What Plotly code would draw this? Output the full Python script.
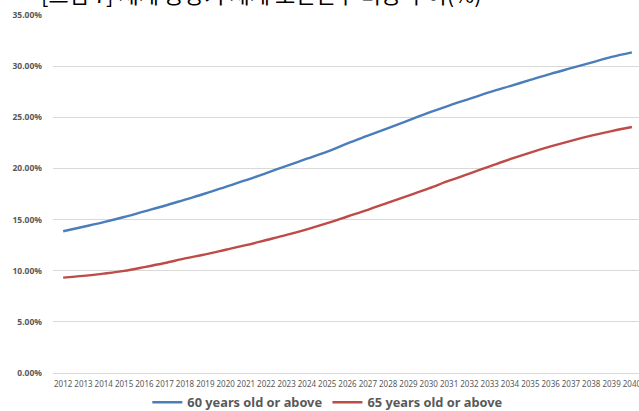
import plotly.graph_objects as go

years = [str(y) for y in range(2012, 2041)]
age60 = [13.86, 14.3, 14.75, 15.25, 15.8, 16.35, 16.95, 17.55, 18.2, 18.85,
         19.55, 20.25, 20.95, 21.65, 22.45, 23.2, 23.95, 24.7, 25.45, 26.15,
         26.8, 27.45, 28.05, 28.65, 29.25, 29.8, 30.35, 30.9, 31.35]
age65 = [9.32, 9.5, 9.72, 9.98, 10.35, 10.75, 11.2, 11.6, 12.05, 12.5,
         13.0, 13.5, 14.05, 14.65, 15.3, 15.95, 16.65, 17.35, 18.05, 18.8,
         19.5, 20.2, 20.9, 21.55, 22.15, 22.7, 23.2, 23.65, 24.05]
series_names = ["60 years old or above", "65 years old or above"]
y_ticks = [0, 5, 10, 15, 20, 25, 30, 35]
y_tick_text = ["0.00%", "5.00%", "10.00%", "15.00%", "20.00%", "25.00%", "30.00%", "35.00%"]
title_text = "[그림 7] 세계 중장기 세계 노인인구 비중 추이(%)"

fig = go.Figure()
fig.add_trace(go.Scatter(x=years, y=age60, mode="lines", name=series_names[0],
                         line=dict(color="#4A7EBB", width=2.4, shape="spline")))
fig.add_trace(go.Scatter(x=years, y=age65, mode="lines", name=series_names[1],
                         line=dict(color="#BE4B48", width=2.4, shape="spline")))

fig.update_layout(
    width=639, height=411,
    margin=dict(l=53, r=0, t=15, b=38, autoexpand=False),
    paper_bgcolor="white", plot_bgcolor="white",
    font=dict(family="Noto Sans, Open Sans, sans-serif", color="#595959"),
    showlegend=True,
    legend=dict(orientation="h", xref="container", x=0.513, xanchor="center",
                yref="paper", y=-0.082, yanchor="middle",
                font=dict(size=12.8, color="#595959", family="Noto Sans, sans-serif", weight="bold"),
                itemwidth=30, tracegroupgap=0, bgcolor="rgba(0,0,0,0)"),
    xaxis=dict(type="category", range=[-0.5, 28.35], showgrid=False,
               showline=True, linecolor="#D9D9D9", linewidth=1,
               tickangle=0, tickfont=dict(size=8, color="#595959", family="Noto Sans, sans-serif"),
               ticks="", ticklabelstandoff=3),
    yaxis=dict(range=[0, 35], tickvals=y_ticks, ticktext=y_tick_text,
               showgrid=True, gridcolor="#D9D9D9", gridwidth=1, zeroline=False,
               showline=False, ticks="", ticklabelstandoff=10,
               tickfont=dict(size=8.5, color="#595959", family="Noto Sans, sans-serif", weight="bold")),
    annotations=[dict(text=title_text, xref="paper", yref="paper", x=0.355, y=1,
                      xanchor="center", yanchor="bottom", yshift=4, showarrow=False,
                      font=dict(size=22, color="black", family="Noto Sans CJK KR"))],
)

fig.write_html("out.html")
